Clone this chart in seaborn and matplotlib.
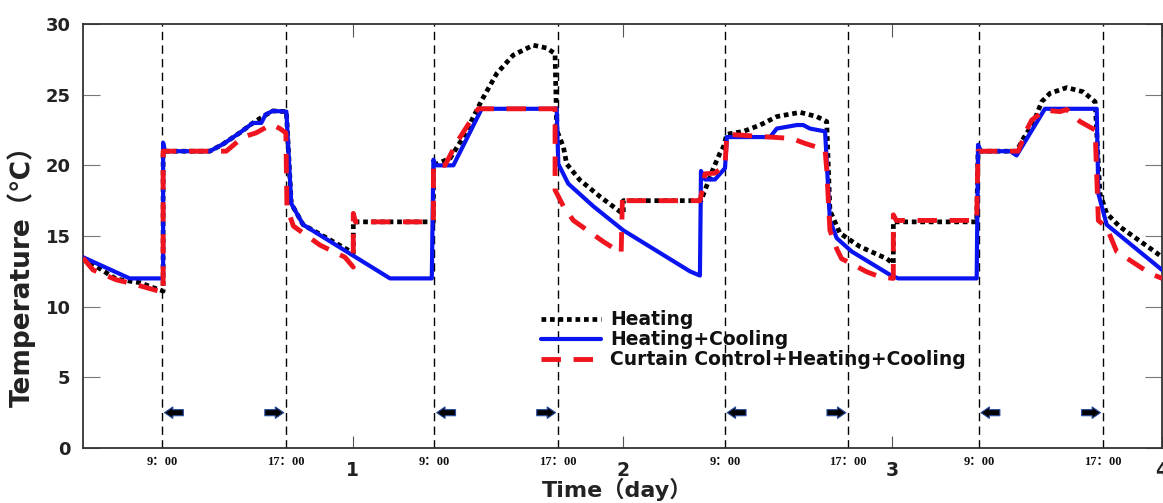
import matplotlib
matplotlib.use("Agg")
import matplotlib.pyplot as plt
import seaborn as sns

# ---------------- data ----------------
day_ticks = [1, 2, 3, 4]
day_labels = ["1", "2", "3", "4"]
period_lines = [0.294, 0.752, 1.303, 1.760, 2.380, 2.836, 3.321, 3.780]
period_labels = ["9：00", "17：00", "9：00", "17：00", "9：00", "17：00", "9：00", "17：00"]
y_ticks = [0, 5, 10, 15, 20, 25, 30]
arrow_level = 2.5

heat_x = [0.0, 0.123, 0.211, 0.252, 0.290, 0.297, 0.297, 0.470, 0.519, 0.581, 0.630, 0.667,
          0.704, 0.754, 0.772, 0.816, 1.002, 1.002, 1.299, 1.299, 1.361, 1.410, 1.478, 1.534,
          1.595, 1.669, 1.719, 1.750, 1.756, 1.781, 1.793, 1.842, 1.917, 1.991, 2.003, 2.003,
          2.291, 2.337, 2.361, 2.374, 2.387, 2.448, 2.510, 2.572, 2.658, 2.720, 2.757, 2.769,
          2.806, 2.880, 2.979, 3.004, 3.004, 3.313, 3.318, 3.461, 3.486, 3.523, 3.554, 3.585,
          3.647, 3.708, 3.752, 3.770, 3.795, 3.844, 3.980, 4.0]
heat_y = [13.45, 11.95, 11.7, 11.4, 11.15, 11.1, 21.0, 21.0, 21.5, 22.3, 23.0, 23.45,
          23.85, 23.8, 17.3, 15.8, 13.8, 16.0, 16.0, 20.0, 20.5, 22.0, 24.6, 26.5,
          27.8, 28.5, 28.3, 27.9, 22.5, 21.3, 20.1, 18.96, 17.78, 16.72, 16.6, 17.5,
          17.5, 19.8, 20.85, 21.3, 22.2, 22.4, 22.85, 23.45, 23.75, 23.45, 23.1, 16.8,
          15.2, 14.25, 13.4, 13.05, 16.0, 16.0, 21.0, 21.0, 21.9, 23.0, 24.5, 25.1,
          25.5, 25.2, 24.5, 18.0, 16.6, 15.65, 13.8, 13.5]

hc_x = [0.0, 0.173, 0.297, 0.297, 0.304, 0.470, 0.519, 0.581, 0.630, 0.661, 0.677, 0.704,
        0.754, 0.772, 0.816, 1.138, 1.293, 1.299, 1.305, 1.373, 1.478, 1.756, 1.762, 1.799,
        1.892, 2.003, 2.250, 2.287, 2.291, 2.306, 2.343, 2.380, 2.387, 2.547, 2.572, 2.646,
        2.670, 2.695, 2.751, 2.769, 2.794, 2.850, 2.992, 3.022, 3.313, 3.318, 3.329, 3.437,
        3.461, 3.566, 3.758, 3.764, 3.795, 4.0]
hc_y = [13.5, 12.0, 12.0, 21.6, 21.0, 21.0, 21.5, 22.3, 23.0, 23.0, 23.6, 23.85,
        23.8, 17.3, 15.8, 12.0, 12.0, 20.4, 20.0, 20.0, 24.0, 24.0, 20.1, 18.7,
        17.1, 15.4, 12.5, 12.2, 19.6, 19.0, 19.0, 19.8, 22.0, 22.0, 22.6, 22.85,
        22.85, 22.6, 22.4, 16.1, 14.85, 13.9, 12.25, 12.0, 12.0, 21.45, 21.0, 21.0,
        20.7, 24.0, 24.0, 18.0, 15.8, 12.6]

cc_x = [0.0, 0.037, 0.123, 0.179, 0.290, 0.297, 0.297, 0.531, 0.593, 0.642, 0.699, 0.730,
        0.752, 0.756, 0.780, 0.879, 0.971, 1.002, 1.002, 1.010, 1.299, 1.299, 1.342, 1.385,
        1.465, 1.750, 1.750, 1.781, 1.818, 1.929, 1.995, 2.000, 2.010, 2.287, 2.300, 2.306,
        2.343, 2.380, 2.387, 2.547, 2.627, 2.677, 2.751, 2.757, 2.769, 2.794, 2.812, 2.905,
        2.955, 3.004, 3.004, 3.015, 3.313, 3.318, 3.467, 3.498, 3.517, 3.566, 3.622, 3.647,
        3.696, 3.752, 3.764, 3.795, 3.832, 3.955, 4.0]
cc_y = [13.45, 12.6, 11.9, 11.65, 11.05, 11.0, 21.0, 21.0, 22.0, 22.3, 22.9, 22.6,
        22.3, 17.0, 15.7, 14.35, 13.5, 12.8, 16.6, 16.0, 16.0, 20.0, 20.0, 21.6,
        24.0, 24.0, 18.25, 17.1, 16.1, 14.6, 13.8, 17.9, 17.5, 17.5, 18.6, 19.4,
        19.45, 20.0, 22.2, 22.0, 21.9, 21.55, 21.1, 19.7, 15.4, 14.1, 13.4, 12.47,
        12.1, 12.0, 16.5, 16.1, 16.1, 21.0, 21.0, 22.5, 23.2, 23.9, 23.8, 23.95,
        23.1, 22.5, 16.1, 15.6, 13.9, 12.36, 12.0]

series_names = ["Heating", "Heating+Cooling", "Curtain Control+Heating+Cooling"]

# ---------------- figure ----------------
sns.set_style("white")
plt.rcParams["font.family"] = ["DejaVu Sans", "Noto Sans CJK SC"]
sans = ["DejaVu Sans", "Noto Sans CJK SC"]

fig = plt.figure(figsize=(11.63, 5.03), dpi=100)
ax = fig.add_axes([83 / 1163, 55 / 503, 1079 / 1163, 424 / 503])

for xv in period_lines:
    ax.axvline(xv, color="black", lw=1.0, linestyle=(0, (6, 3.8)), zorder=1)

sns.lineplot(x=heat_x, y=heat_y, sort=False, estimator=None, ax=ax, color="black",
             lw=3.4, linestyle=(0, (1, 0.8)), label=series_names[0], zorder=3)
sns.lineplot(x=hc_x, y=hc_y, sort=False, estimator=None, ax=ax, color="#0a14f0",
             lw=3.0, linestyle="-", label=series_names[1], zorder=4)
sns.lineplot(x=cc_x, y=cc_y, sort=False, estimator=None, ax=ax, color="#f0141e",
             lw=3.5, linestyle=(0, (4, 2.6)), label=series_names[2], zorder=5)

# arrows marking the daytime window
astyle = "simple,head_length=0.55,head_width=0.75,tail_width=0.4"
for i in range(0, len(period_lines), 2):
    start, end = period_lines[i], period_lines[i + 1]
    ax.annotate("", xy=(start + 0.008, arrow_level), xytext=(start + 0.078, arrow_level),
                arrowprops=dict(arrowstyle=astyle, fc="black", ec="#2b4fa0", lw=0.8,
                                mutation_scale=11, shrinkA=0, shrinkB=0), zorder=6)
    ax.annotate("", xy=(end - 0.008, arrow_level), xytext=(end - 0.078, arrow_level),
                arrowprops=dict(arrowstyle=astyle, fc="black", ec="#2b4fa0", lw=0.8,
                                mutation_scale=11, shrinkA=0, shrinkB=0), zorder=6)

ax.set_xlim(0, 4)
ax.set_ylim(0, 30)

# y ticks
ax.set_yticks(y_ticks)
ax.set_yticklabels([str(v) for v in y_ticks], fontsize=13, fontweight="bold", color="#222222")
ax.tick_params(axis="y", direction="in", length=12, width=0.8, color="#777777",
               left=True, right=True, pad=9)

# x ticks: days (major) and clock times (minor)
ax.set_xticks(day_ticks)
ax.set_xticklabels(day_labels, fontsize=13.5, fontweight="bold", color="#222222")
ax.tick_params(axis="x", which="major", direction="in", length=9, width=0.8,
               color="#555555", top=True, bottom=True, pad=9)
ax.set_xticks(period_lines, minor=True)
ax.set_xticklabels(period_labels, minor=True, fontsize=9, fontweight="bold",
                   family=["Liberation Serif", "Noto Sans CJK SC"], color="#111111")
ax.tick_params(axis="x", which="minor", length=0, pad=6)

for sp in ax.spines.values():
    sp.set_color("#333333")
    sp.set_linewidth(1.3)
    sp.set_visible(True)

ax.set_ylabel("Temperature（℃）", fontsize=19, fontweight="bold", family=sans,
              color="#222222")
ax.yaxis.set_label_coords(-0.044, 0.42)
ax.set_xlabel("Time（day）", fontsize=16, fontweight="bold", family=sans, color="#222222")
ax.xaxis.set_label_coords(0.495, -0.07)

leg = ax.legend(loc="center left", bbox_to_anchor=(0.4245, 0.255), frameon=False,
                prop=dict(weight="bold", size=13.5, family=sans), handlelength=3.2,
                handletextpad=0.5, labelspacing=0.05, borderpad=0, borderaxespad=0)
for t in leg.get_texts():
    t.set_color("#111111")

fig.savefig("out.png", dpi=100)
